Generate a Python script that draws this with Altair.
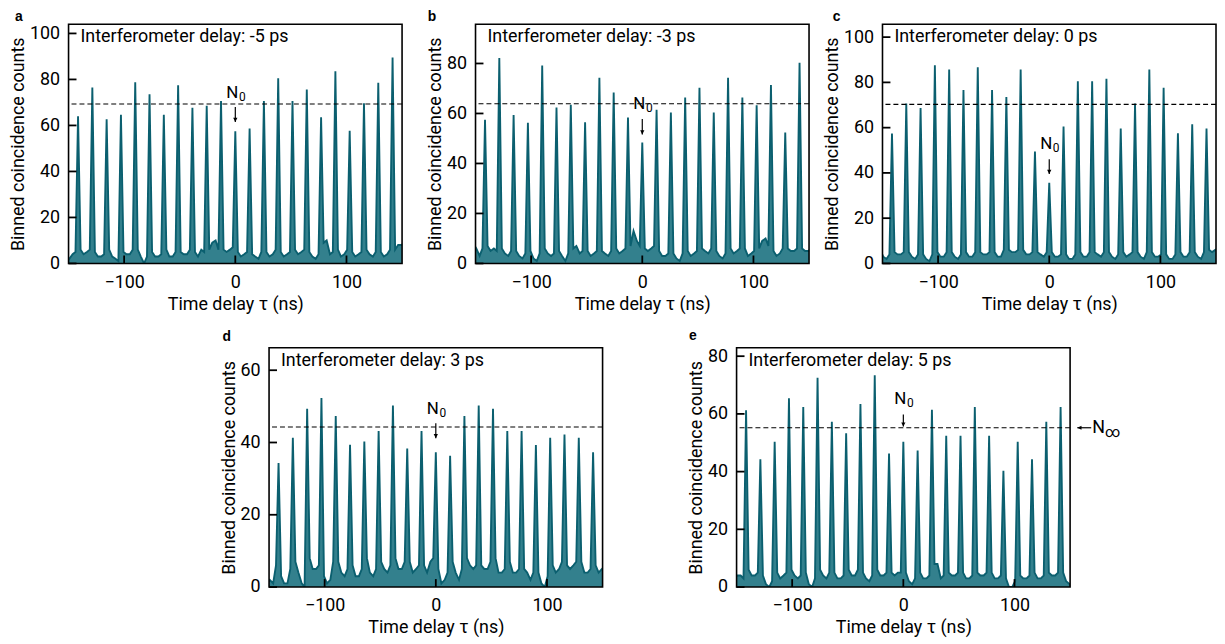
import altair as alt
import pandas as pd

FONT = "Roboto"
FILL = "#33808d"
STROKE = "#0b5f6f"
P = 12.86                        # peak spacing (ns)
OFFS = [2.3, 5.0, 8.0, 10.56]    # positions of floor samples inside each gap
W, H = 336, 241
XTICKS = [-100, 0, 100]
FS = 18

# ---------------- data ----------------
a_peaks = [64, 76.5, 62.7, 64.6, 78.8, 73.6, 64.6, 77.5, 67.7, 68.6, 70.6, 57.5,
           58.7, 70.6, 80.5, 70.6, 75.6, 63.6, 83.5, 57.7, 69.6, 78.6, 89.5]
a_floor = [[3, 2, 4, 5], [6, 4, 5, 6], [5, 3, 3, 4], [6, 3, 2, 1], [5, 4, 4, 6],
           [6, 3, 0, 3], [5, 3, 3, 4], [6, 3, 3, 5], [5, 4, 4, 6], [5, 3, 6, 5],
           [6, 9, 10, 6], [6, 5, 6, 7], [5, 3, 4, 5], [4, 3, 2, 5], [5, 3, 4, 6],
           [5, 3, 4, 5], [6, 4, 5, 6], [5, 3, 2, 4], [9, 10, 4, 5], [6, 3, 4, 6],
           [5, 3, 4, 5], [6, 4, 3, 5], [5, 3, 4, 6], [6, 8, 8, 9]]

b_peaks = [57.5, 82.2, 59.4, 56.3, 79.2, 62.4, 63.5, 56.5, 74.3, 68.4, 58.4, 48.4,
           61.5, 60.4, 66.4, 70.3, 60.4, 74.3, 66.4, 63.3, 71.4, 52.4, 80.3]
b_floor = [[8, 6, 3, 6], [7, 5, 6, 5], [6, 4, 3, 5], [5, 3, 2, 4], [5, 2, 1, 4],
           [6, 4, 3, 4], [5, 3, 1, 4], [6, 7, 4, 5], [5, 3, 4, 5], [5, 4, 3, 5],
           [6, 4, 5, 6], [7, 13, 9, 7], [6, 5, 6, 7], [5, 3, 3, 4], [4, 2, 1, 4],
           [5, 3, 4, 5], [6, 5, 4, 6], [5, 3, 2, 4], [6, 4, 5, 6], [6, 3, 4, 5],
           [6, 9, 10, 7], [5, 3, 4, 6], [6, 5, 5, 6], [6, 5, 5, 6]]

c_peaks = [57.4, 70.7, 68.7, 87.6, 85.7, 76.6, 86.7, 76.6, 73.5, 85.7, 49.5, 35.6,
           60.5, 80.5, 80.5, 81.6, 59.6, 70.7, 85.7, 77.6, 57.5, 61.5, 59.6]
c_floor = [[6, 3, 2, 4], [5, 4, 4, 5], [5, 3, 2, 4], [4, 2, 1, 4], [5, 3, 3, 5],
           [5, 3, 2, 4], [5, 3, 3, 5], [5, 4, 4, 5], [5, 3, 3, 6], [6, 5, 5, 6],
           [6, 4, 4, 5], [5, 4, 3, 5], [5, 3, 3, 4], [4, 2, 2, 4], [5, 3, 3, 5],
           [5, 4, 3, 5], [5, 3, 2, 4], [5, 3, 4, 5], [5, 3, 2, 5], [5, 3, 3, 4],
           [4, 2, 2, 4], [5, 3, 3, 5], [5, 3, 2, 5], [6, 5, 6, 7]]

d_peaks = [34.3, 41.3, 49.3, 52.3, 47.3, 39.4, 40.3, 43.2, 50.2, 38.3, 43.2, 37.3,
           36.3, 47.3, 50.2, 49.3, 43.2, 43.2, 39.3, 41.3, 42.2, 41.3, 37.3]
d_floor = [[1, 2, 1, 6], [3, 1, 1, 5], [7, 4, 1, 0], [8, 5, 5, 6], [3, 1, 2, 7],
           [7, 4, 3, 5], [6, 3, 3, 5], [8, 4, 3, 5], [7, 5, 4, 6], [8, 5, 5, 7],
           [7, 4, 5, 6], [6, 4, 7, 8], [5, 1, 2, 4], [7, 4, 2, 5], [8, 6, 5, 6],
           [6, 5, 5, 7], [8, 4, 4, 5], [7, 4, 4, 5], [5, 4, 2, 4], [4, 1, 0, 3],
           [6, 4, 5, 7], [6, 5, 6, 7], [7, 4, 4, 5], [6, 4, 5, 6]]

e_peaks = [61.3, 44.3, 50.3, 65.4, 62.4, 72.5, 57.3, 53.3, 63.4, 73.4, 46.3, 50.3,
           47.3, 61.4, 52.4, 52.4, 62.4, 52.4, 40.3, 50.3, 44.3, 57.3, 62.4]
e_floor = [[3, 4, 4, 3], [6, 4, 4, 5], [4, 1, 0, 2], [5, 3, 4, 5], [6, 4, 3, 4],
           [5, 1, 0, 3], [6, 4, 3, 5], [5, 3, 3, 4], [6, 4, 4, 6], [5, 3, 2, 4],
           [6, 4, 4, 5], [5, 4, 5, 5], [5, 2, 1, 3], [5, 3, 3, 4], [8, 8, 3, 4],
           [5, 4, 4, 5], [5, 3, 3, 4], [5, 4, 4, 5], [5, 3, 3, 4], [3, 0, 0, 2],
           [4, 3, 3, 4], [5, 3, 3, 4], [5, 4, 4, 5], [5, 2, 1, 0]]

# label, y max, y ticks, dashed level, N0 text y, arrow start, arrow tip
panels_meta = {
    "a": ("Interferometer delay: -5 ps", 104, [0, 20, 40, 60, 80, 100], 69.3, 74, 68, 61.5),
    "b": ("Interferometer delay: -3 ps", 95.7, [0, 20, 40, 60, 80], 63.9, 63.7, 57.8, 51.6),
    "c": ("Interferometer delay: 0 ps", 105.7, [0, 20, 40, 60, 80, 100], 70.3, 52.7, 46, 39.5),
    "d": ("Interferometer delay: 3 ps", 66.2, [0, 20, 40, 60], 44.3, 49.2, 45.3, 41.2),
    "e": ("Interferometer delay: 5 ps", 82.9, [0, 20, 40, 60, 80], 55.2, 65, 59.8, 55.6),
}
panel_data = {"a": (a_peaks, a_floor), "b": (b_peaks, b_floor), "c": (c_peaks, c_floor),
              "d": (d_peaks, d_floor), "e": (e_peaks, e_floor)}
letter_pos = {"a": (-54, -3), "b": (-48, -3), "c": (-50, -3), "d": (-47, -7), "e": (-48, -8)}


def build_df(peaks, floor):
    rows = []
    for k, h in enumerate(peaks):
        rows.append(((k - 11) * P, h))
    for g, vals in enumerate(floor):
        base = (g - 12) * P
        for off, v in zip(OFFS, vals):
            rows.append((base + off, v))
    return pd.DataFrame(rows, columns=["t", "c"]).sort_values("t").reset_index(drop=True)


def panel(key):
    label, ymax, yticks, nline, ntext, ay1, ay2 = panels_meta[key]
    peaks, floor = panel_data[key]
    df = build_df(peaks, floor)
    xs = alt.Scale(domain=[-150, 150], nice=False, zero=False)
    ys = alt.Scale(domain=[0, ymax], nice=False, zero=False)
    xax = alt.Axis(values=XTICKS, title="Time delay τ (ns)", labelPadding=10, titlePadding=4,
                   format="d")
    yax = alt.Axis(values=yticks, title="Binned coincidence counts", labelPadding=9,
                   titlePadding=2)
    area = alt.Chart(df).mark_area(color=FILL, clip=True).encode(
        x=alt.X("t:Q", scale=xs, axis=xax), y=alt.Y("c:Q", scale=ys, axis=yax))
    line = alt.Chart(df).mark_line(color=STROKE, strokeWidth=1.9, clip=True).encode(
        x="t:Q", y="c:Q")
    dash = alt.Chart(pd.DataFrame({"c": [nline]})).mark_rule(
        color="black", strokeDash=[5, 3], strokeWidth=1.1).encode(y="c:Q")
    xt = alt.Chart(pd.DataFrame({"t": XTICKS})).mark_rule(color="black", strokeWidth=1.8).encode(
        x="t:Q", y=alt.value(H), y2=alt.value(H - 8))
    yt = alt.Chart(pd.DataFrame({"c": yticks})).mark_rule(color="black", strokeWidth=1.8).encode(
        y="c:Q", x=alt.value(0), x2=alt.value(8))
    frame = alt.Chart(pd.DataFrame({"z": [0]})).mark_rect(
        fillOpacity=0, stroke="black", strokeWidth=1.6).encode(
        x=alt.value(0), x2=alt.value(W), y=alt.value(0), y2=alt.value(H))
    title = alt.Chart(pd.DataFrame({"s": [label]})).mark_text(
        align="left", baseline="middle", fontSize=FS, font=FONT, color="black").encode(
        text="s:N", x=alt.value(12), y=alt.value(13))
    lx, ly = letter_pos[key]
    letter = alt.Chart(pd.DataFrame({"s": [key]})).mark_text(
        align="left", baseline="alphabetic", fontSize=14, fontWeight="bold",
        font="Liberation Sans", color="black").encode(
        text="s:N", x=alt.value(lx), y=alt.value(ly))
    ndf = pd.DataFrame({"t": [0.0], "c": [ntext]})
    n_main = alt.Chart(ndf).mark_text(fontSize=17, font=FONT, color="black", dx=-3,
                                      baseline="middle").encode(
        x="t:Q", y="c:Q", text=alt.value("N"))
    n_sub = alt.Chart(ndf).mark_text(fontSize=12, font=FONT, color="black", dx=7, dy=4,
                                     baseline="middle").encode(
        x="t:Q", y="c:Q", text=alt.value("0"))
    adf = pd.DataFrame({"t": [0.0], "c": [ay1], "c2": [ay2]})
    arrow = alt.Chart(adf).mark_rule(color="black", strokeWidth=1.2).encode(
        x="t:Q", y="c:Q", y2="c2:Q")
    head = alt.Chart(adf).mark_point(shape="M-0.8,-1.6L0.8,-1.6L0,0Z", filled=True,
                                     color="black", size=28, opacity=1).encode(
        x="t:Q", y="c2:Q")
    layers = [area, line, dash, xt, yt, frame, title, letter, n_main, n_sub, arrow, head]
    if key == "e":
        idf = pd.DataFrame({"t": [169.0], "c": [nline], "t2": [156.5]})
        iarrow = alt.Chart(idf).mark_rule(color="black", strokeWidth=1.2).encode(
            x="t:Q", x2="t2:Q", y="c:Q")
        ihead = alt.Chart(idf).mark_point(shape="M0,0L1.6,-0.8L1.6,0.8Z", filled=True,
                                          color="black", size=28, opacity=1).encode(
            x="t2:Q", y="c:Q")
        itxt = alt.Chart(idf).mark_text(fontSize=18, font=FONT, color="black", align="left",
                                        baseline="middle", dx=1).encode(
            x="t:Q", y="c:Q", text=alt.value("N"))
        isub = alt.Chart(idf).mark_text(fontSize=15, font=FONT, color="black", align="left",
                                        baseline="middle", dx=14, dy=4).encode(
            x="t:Q", y="c:Q", text=alt.value("∞"))
        layers += [iarrow, ihead, itxt, isub]
    return alt.layer(*layers).properties(width=W, height=H)


spacer = alt.Chart(pd.DataFrame({"z": [0]})).mark_point(opacity=0).encode(
    x=alt.value(0), y=alt.value(0)).properties(width=67, height=1)

top = alt.hconcat(panel("a"), panel("b"), panel("c"), spacing=74, bounds="flush")
bottom = alt.hconcat(spacer, panel("d"), panel("e"), spacing=135, bounds="flush")
chart = alt.vconcat(top, bottom, spacing=16).properties(
    padding={"left": 1, "top": 0, "right": 0, "bottom": 0}
).configure_view(stroke=None).configure_axis(
    labelFont=FONT, titleFont=FONT, labelFontSize=FS, titleFontSize=FS,
    titleFontWeight="normal", labelColor="black", titleColor="black",
    domain=False, ticks=False, grid=False
)

chart.save("out.html", embed_options={"renderer": "svg", "actions": False})
